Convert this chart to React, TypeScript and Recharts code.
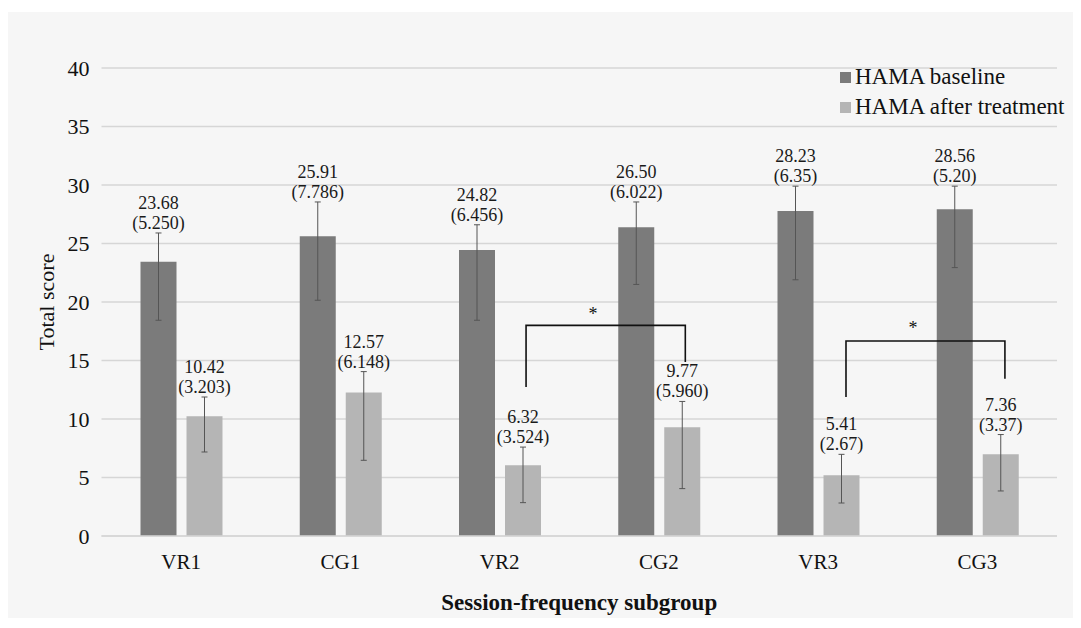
import * as React from 'react'
import { BarChart, Bar, LineChart, Line, XAxis, YAxis, CartesianGrid, ErrorBar, LabelList, ReferenceDot } from 'recharts'

const categories = ['VR1', 'CG1', 'VR2', 'CG2', 'VR3', 'CG3']

// bar heights as drawn
const baselineBar = [23.45, 25.62, 24.44, 26.38, 27.78, 27.92]
const afterBar = [10.23, 12.26, 6.04, 9.29, 5.19, 6.98]

// error bar ends
const baselineHigh = [25.9, 28.55, 26.6, 28.55, 29.9, 29.9]
const baselineLow = [18.44, 20.15, 18.44, 21.5, 21.9, 22.94]
const afterHigh = [11.88, 14.05, 7.6, 11.5, 6.98, 8.67]
const afterLow = [7.18, 6.47, 2.85, 4.05, 2.82, 3.85]

// printed labels
const baselineMean = ['23.68', '25.91', '24.82', '26.50', '28.23', '28.56']
const baselineSd = ['(5.250)', '(7.786)', '(6.456)', '(6.022)', '(6.35)', '(5.20)']
const afterMean = ['10.42', '12.57', '6.32', '9.77', '5.41', '7.36']
const afterSd = ['(3.203)', '(6.148)', '(3.524)', '(5.960)', '(2.67)', '(3.37)']

const yTicks = [0, 5, 10, 15, 20, 25, 30, 35, 40]

// significance brackets, x measured in category slots (0..6 across the plot)
const bracketX1 = [2.666, 4.675]
const bracketX2 = [3.666, 5.673]
const bracketTop = [18.0, 16.67]
const bracketLeftEnd = [12.74, 11.88]
const bracketRightEnd = [14.87, 13.45]
const starX = [3.086, 5.096]
const starY = [19.1, 17.86]

const data = categories.map((name, i) => ({
  name,
  baseline: baselineBar[i],
  after: afterBar[i],
  baselineErr: [baselineBar[i] - baselineLow[i], baselineHigh[i] - baselineBar[i]],
  afterErr: [afterBar[i] - afterLow[i], afterHigh[i] - afterBar[i]],
}))

// one polyline per bracket: left leg, top, right leg
const bracketData: any[] = []
bracketX1.forEach((x1, i) => {
  const key = `b${i}`
  bracketData.push({ x: x1, [key]: bracketLeftEnd[i] })
  bracketData.push({ x: x1, [key]: bracketTop[i] })
  bracketData.push({ x: bracketX2[i], [key]: bracketTop[i] })
  bracketData.push({ x: bracketX2[i], [key]: bracketRightEnd[i] })
})

const FONT = '"Liberation Serif", "Times New Roman", serif'
const DARK = '#7b7b7b'
const LIGHT = '#b5b5b5'
const MARGIN = { top: 68, right: 24, bottom: 92, left: 101.5 }

function makeLabel(values: number[], highs: number[], means: string[], sds: string[]) {
  return (props: any) => {
    const vb = props.viewBox || props
    const i = categories.indexOf(props.value)
    if (i < 0) return null
    const x = vb.x + vb.width / 2
    const bottom = vb.y + vb.height
    const top = bottom - (vb.height * highs[i]) / values[i]
    return (
      <g>
        <text x={x} y={top - 24} textAnchor="middle" fontSize={18} fill="#1a1a1a" fontFamily={FONT}>{means[i]}</text>
        <text x={x} y={top - 4} textAnchor="middle" fontSize={18} fill="#1a1a1a" fontFamily={FONT}>{sds[i]}</text>
      </g>
    )
  }
}

const YTitle = (props: any) => {
  const vb = props.viewBox
  const cx = vb.x + 46
  const cy = vb.y + vb.height / 2
  return (
    <text x={cx} y={cy} transform={`rotate(-90 ${cx} ${cy})`} textAnchor="middle" dominantBaseline="central" fontSize={22} fill="#111" fontFamily={FONT}>
      Total score
    </text>
  )
}

const XTitle = (props: any) => {
  const vb = props.viewBox
  return (
    <text x={vb.x + vb.width / 2} y={vb.y + 74} textAnchor="middle" fontSize={23} fontWeight="bold" fill="#111" fontFamily={FONT}>
      Session-frequency subgroup
    </text>
  )
}

const legendItems = [
  { c: DARK, t: 'HAMA baseline' },
  { c: LIGHT, t: 'HAMA after treatment' },
]

export default function App() {
  return (
    <div style={{ position: 'absolute', left: 0, top: 0, width: 1081, height: 628, background: '#ffffff', fontFamily: FONT }}>
      <div style={{ position: 'absolute', left: 8, top: 12, width: 1065, height: 606, background: '#f6f6f6' }} />
      <div style={{ position: 'absolute', left: 0, top: 0 }}>
        <BarChart
          width={1081}
          height={628}
          data={data}
          margin={{ top: 68, right: 24, bottom: 0, left: 0 }}
          barSize={36}
          barGap={10}
        >
          <CartesianGrid vertical={false} stroke="#d6d6d6" strokeWidth={1.5} />
          <XAxis
            dataKey="name"
            height={92}
            tickLine={false}
            axisLine={{ stroke: '#d6d6d6', strokeWidth: 1.5 }}
            tickMargin={12}
            tick={{ fontSize: 21, fill: '#111', fontFamily: FONT }}
            label={<XTitle />}
          />
          <YAxis
            width={101.5}
            domain={[0, 40]}
            ticks={yTicks}
            interval={0}
            tickLine={false}
            axisLine={false}
            tickMargin={6}
            tick={{ fontSize: 22, fill: '#111', fontFamily: FONT }}
            label={<YTitle />}
          />
          <Bar dataKey="baseline" name="HAMA baseline" fill={DARK} isAnimationActive={false}>
            <ErrorBar dataKey="baselineErr" width={3} stroke="#555" strokeWidth={1} />
            <LabelList dataKey="name" content={makeLabel(baselineBar, baselineHigh, baselineMean, baselineSd)} />
          </Bar>
          <Bar dataKey="after" name="HAMA after treatment" fill={LIGHT} isAnimationActive={false}>
            <ErrorBar dataKey="afterErr" width={3} stroke="#555" strokeWidth={1} />
            <LabelList dataKey="name" content={makeLabel(afterBar, afterHigh, afterMean, afterSd)} />
          </Bar>
        </BarChart>
      </div>
      <div style={{ position: 'absolute', left: 0, top: 0, pointerEvents: 'none' }}>
        <LineChart width={1081} height={628} data={bracketData} margin={MARGIN}>
          <XAxis dataKey="x" type="number" domain={[0, 6]} allowDataOverflow hide />
          <YAxis type="number" domain={[0, 40]} allowDataOverflow hide />
          {bracketX1.map((_, i) => (
            <Line
              key={i}
              dataKey={`b${i}`}
              type="linear"
              stroke="#111"
              strokeWidth={1.6}
              dot={false}
              activeDot={false}
              connectNulls={false}
              isAnimationActive={false}
            />
          ))}
          {starX.map((sx, i) => (
            <ReferenceDot
              key={`s${i}`}
              x={sx}
              y={starY[i]}
              r={1}
              fill="none"
              stroke="none"
              label={{ value: '*', position: 'center', fontSize: 18, fill: '#111', fontFamily: FONT, dy: 1 }}
            />
          ))}
        </LineChart>
      </div>
      <div style={{ position: 'absolute', left: 840, top: 62, fontSize: 23, color: '#111', lineHeight: '30px' }}>
        {legendItems.map((it) => (
          <div key={it.t} style={{ display: 'flex', alignItems: 'center', whiteSpace: 'nowrap' }}>
            <span style={{ display: 'inline-block', width: 11, height: 11, background: it.c, marginRight: 4 }} />
            {it.t}
          </div>
        ))}
      </div>
    </div>
  )
}
